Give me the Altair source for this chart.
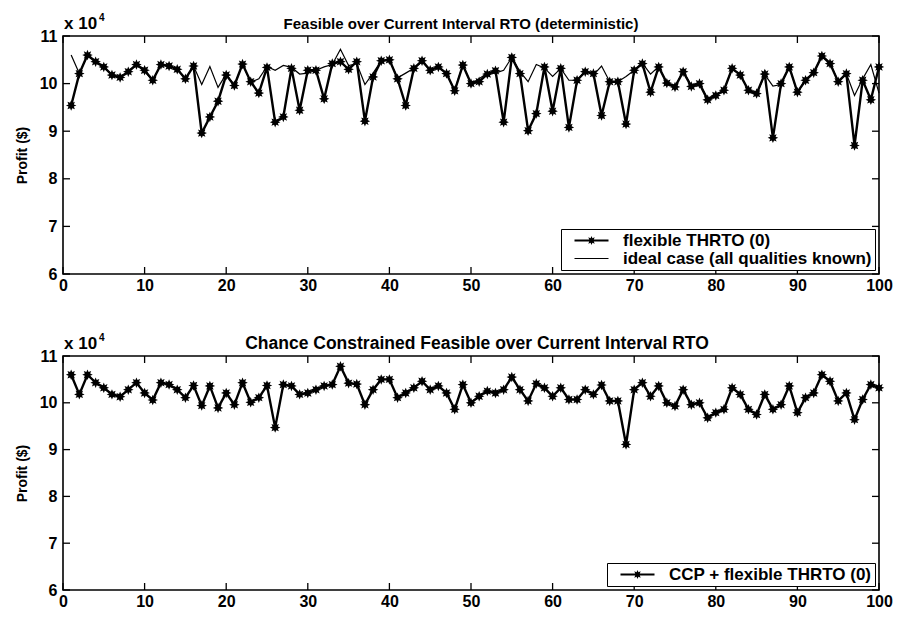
import math
import altair as alt
import pandas as pd

# Run index (real-time optimisation interval) and profit per run, in units of 1e4 $
runs = list(range(1, 101))

flex_top = [
    9.54, 10.21, 10.60, 10.46, 10.35, 10.18, 10.13, 10.25, 10.40, 10.28,
    10.07, 10.40, 10.37, 10.30, 10.10, 10.37, 8.96, 9.30, 9.63, 10.18,
    9.96, 10.41, 10.04, 9.80, 10.34, 9.19, 9.30, 10.32, 9.44, 10.28,
    10.28, 9.68, 10.42, 10.46, 10.30, 10.46, 9.21, 10.14, 10.48, 10.50,
    10.10, 9.54, 10.32, 10.48, 10.28, 10.35, 10.21, 9.85, 10.39, 10.00,
    10.04, 10.20, 10.27, 9.19, 10.55, 10.21, 9.01, 9.37, 10.35, 9.42,
    10.32, 9.08, 10.07, 10.25, 10.21, 9.33, 10.04, 10.04, 9.15, 10.28,
    10.42, 9.82, 10.35, 10.01, 9.93, 10.25, 9.94, 10.00, 9.66, 9.75,
    9.86, 10.32, 10.18, 9.86, 9.79, 10.20, 8.86, 10.00, 10.35, 9.82,
    10.07, 10.23, 10.58, 10.42, 10.04, 10.21, 8.70, 10.07, 9.66, 10.35,
]

ideal_top = [
    10.60, 10.21, 10.60, 10.46, 10.35, 10.18, 10.13, 10.25, 10.40, 10.25,
    10.07, 10.40, 10.37, 10.30, 10.10, 10.37, 9.98, 10.36, 9.92, 10.20,
    9.96, 10.41, 10.03, 10.10, 10.36, 10.28, 10.38, 10.34, 10.20, 10.22,
    10.28, 10.35, 10.40, 10.72, 10.38, 10.42, 9.98, 10.22, 10.48, 10.50,
    10.12, 10.22, 10.32, 10.46, 10.28, 10.35, 10.21, 9.86, 10.39, 10.00,
    10.10, 10.22, 10.22, 10.28, 10.55, 10.25, 10.04, 10.40, 10.33, 10.15,
    10.32, 10.07, 10.07, 10.27, 10.18, 10.37, 10.04, 10.04, 10.15, 10.28,
    10.43, 10.20, 10.36, 10.00, 9.93, 10.27, 9.96, 10.00, 9.68, 9.77,
    9.86, 10.32, 10.18, 9.86, 9.77, 10.19, 9.95, 9.98, 10.36, 9.80,
    10.10, 10.22, 10.60, 10.44, 10.04, 10.21, 9.75, 10.10, 10.40, 9.80,
]

ccp_bottom = [
    10.60, 10.18, 10.60, 10.43, 10.32, 10.18, 10.13, 10.28, 10.43, 10.21,
    10.06, 10.43, 10.39, 10.28, 10.11, 10.37, 9.94, 10.36, 9.89, 10.21,
    9.96, 10.43, 10.01, 10.11, 10.37, 9.47, 10.39, 10.36, 10.18, 10.21,
    10.28, 10.36, 10.39, 10.78, 10.42, 10.40, 9.96, 10.28, 10.50, 10.50,
    10.11, 10.21, 10.32, 10.46, 10.28, 10.36, 10.21, 9.86, 10.39, 10.00,
    10.14, 10.25, 10.21, 10.28, 10.55, 10.28, 10.04, 10.41, 10.32, 10.14,
    10.32, 10.07, 10.07, 10.28, 10.18, 10.38, 10.04, 10.04, 9.11, 10.28,
    10.43, 10.14, 10.36, 10.00, 9.93, 10.28, 9.96, 10.00, 9.68, 9.79,
    9.86, 10.32, 10.18, 9.86, 9.75, 10.18, 9.86, 9.96, 10.36, 9.79,
    10.11, 10.21, 10.60, 10.46, 10.04, 10.21, 9.64, 10.07, 10.39, 10.32,
]

x_ticks = list(range(0, 101, 10))
y_ticks = [6, 7, 8, 9, 10, 11]

FLEX = "flexible THRTO (0)"
IDEAL = "ideal case (all qualities known)"
CCP = "CCP + flexible THRTO (0)"

FONT = "Liberation Sans"
W = 816
TICK = 7


def star_path(r_out, r_in, scale=1.0, n=8):
    pts = []
    for i in range(2 * n):
        r = r_out if i % 2 == 0 else r_in
        a = math.pi * i / n
        pts.append(f"{scale * r * math.cos(a):.3f},{scale * r * math.sin(a):.3f}")
    return "M" + "L".join(pts) + "Z"


def bar_path(half_len, half_thick):
    # thin filled bar drawn as a closed shape, so it shows with fill alone
    return (f"M{-half_len},{-half_thick}L{half_len},{-half_thick}"
            f"L{half_len},{half_thick}L{-half_len},{half_thick}Z")


STAR = star_path(1.0, 0.55)
# legend keys reach well beyond the unit symbol box: a long bar, with a star for starred series
LEGEND_LINE = bar_path(3.4, 0.12)
LEGEND_STAR = bar_path(3.4, 0.2) + star_path(1.0, 0.55, 0.9)

X_SCALE = alt.Scale(domain=[0, 100], nice=False, zero=False)
Y_SCALE = alt.Scale(domain=[6, 11], nice=False, zero=False)


def panel(series, points, title, H, title_size, title_shift):
    names = [s for s, _ in series]
    keys = [LEGEND_LINE if s == IDEAL else LEGEND_STAR for s in names]

    x_enc = alt.X(
        "run:Q", scale=X_SCALE,
        axis=alt.Axis(values=x_ticks, title=None, domain=False, ticks=False, grid=False,
                      labelFont=FONT, labelFontSize=16, labelFontWeight="bold",
                      labelColor="black", labelPadding=3, labelFlush=False),
    )
    y_enc = alt.Y(
        "profit:Q", scale=Y_SCALE,
        axis=alt.Axis(values=y_ticks, title="Profit ($)", domain=False, ticks=False, grid=False,
                      labelFont=FONT, labelFontSize=16, labelFontWeight="bold",
                      labelColor="black", labelPadding=6, labelFlush=False,
                      titleFont=FONT, titleFontSize=14, titleFontWeight="bold",
                      titleColor="black", titlePadding=10),
    )

    layers = []
    for s, vals in series:
        df = pd.DataFrame({"run": runs, "profit": vals})
        layers.append(
            alt.Chart(df).mark_line(color="black", strokeWidth=1.2 if s == IDEAL else 2.4)
            .encode(x=x_enc, y=y_enc)
        )

    pt_df = pd.DataFrame({"run": runs, "profit": points})
    layers.append(
        alt.Chart(pt_df).mark_point(shape=STAR, filled=True, size=110, color="black", opacity=1)
        .encode(x=alt.X("run:Q", scale=X_SCALE), y=alt.Y("profit:Q", scale=Y_SCALE))
    )

    # legend key: one row per series, parked left of the plot and clipped away
    key_df = pd.DataFrame({"run": [-50] * len(names), "profit": [8.0] * len(names),
                           "series": names})
    layers.append(
        alt.Chart(key_df).mark_point(filled=True, color="black", opacity=1, clip=True).encode(
            x=alt.X("run:Q", scale=X_SCALE),
            y=alt.Y("profit:Q", scale=Y_SCALE),
            shape=alt.Shape("series:N", scale=alt.Scale(domain=names, range=keys),
                            legend=alt.Legend(
                                title=None, orient="bottom-right", offset=4,
                                strokeColor="black", fillColor="white", padding=3,
                                cornerRadius=0, symbolSize=100, symbolOffset=19,
                                symbolFillColor="black", rowPadding=0,
                                labelFont=FONT, labelFontSize=17, labelFontWeight="bold",
                                labelColor="black", labelLimit=400, labelOffset=23,
                            )),
        )
    )

    # inward tick marks on all four sides
    ydf = pd.DataFrame({"tick": y_ticks})
    xdf = pd.DataFrame({"tick": x_ticks})
    rule = dict(color="black", strokeWidth=1.3)
    layers += [
        alt.Chart(ydf).mark_rule(**rule).encode(
            y=alt.Y("tick:Q", scale=Y_SCALE), x=alt.value(0), x2=alt.value(TICK)),
        alt.Chart(ydf).mark_rule(**rule).encode(
            y=alt.Y("tick:Q", scale=Y_SCALE), x=alt.value(W - TICK), x2=alt.value(W)),
        alt.Chart(xdf).mark_rule(**rule).encode(
            x=alt.X("tick:Q", scale=X_SCALE), y=alt.value(H - TICK), y2=alt.value(H)),
        alt.Chart(xdf).mark_rule(**rule).encode(
            x=alt.X("tick:Q", scale=X_SCALE), y=alt.value(0), y2=alt.value(TICK)),
    ]

    # panel title and the 10^4 multiplier sit on one line above the frame
    txt_df = pd.DataFrame({"title": [title], "base": ["x 10"], "power": ["4"]})
    layers += [
        alt.Chart(txt_df).mark_text(
            align="center", baseline="alphabetic", font=FONT, fontSize=title_size,
            fontWeight="bold", color="black").encode(
            x=alt.value(W / 2 + title_shift), y=alt.value(-7), text="title:N"),
        alt.Chart(txt_df).mark_text(
            align="left", baseline="alphabetic", font=FONT, fontSize=17, fontWeight="bold",
            color="black").encode(x=alt.value(1), y=alt.value(-7), text="base:N"),
        alt.Chart(txt_df).mark_text(
            align="left", baseline="alphabetic", font=FONT, fontSize=10, fontWeight="bold",
            color="black").encode(x=alt.value(36), y=alt.value(-15), text="power:N"),
    ]

    return alt.layer(*layers).properties(width=W, height=H)


top = panel([(FLEX, flex_top), (IDEAL, ideal_top)], flex_top,
            "Feasible over Current Interval RTO (deterministic)", 238, 15, -10)
bottom = panel([(CCP, ccp_bottom)], ccp_bottom,
               "Chance Constrained Feasible over Current Interval RTO", 234, 17.5, 6)

chart = alt.vconcat(top, bottom, spacing=38).resolve_scale(shape="independent").properties(
    padding={"left": 14, "top": 12, "right": 5, "bottom": 5},
    background="white",
).configure_view(stroke="black", strokeWidth=1.6)

chart.save("out.html", embed_options={"renderer": "svg", "actions": False})
